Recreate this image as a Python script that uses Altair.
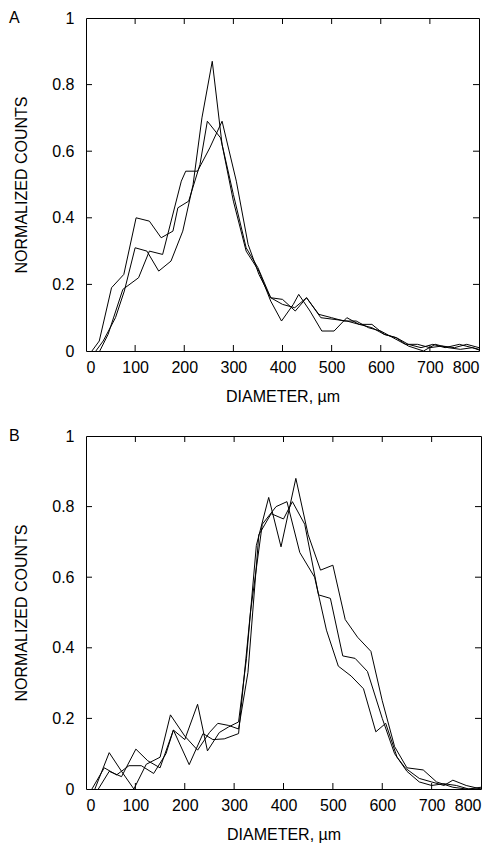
import altair as alt
import pandas as pd

# ---------------- data ----------------
# Panel A
a1_x = [12, 27, 52, 77, 102, 129, 153, 177, 187, 209, 232, 247, 274, 300, 326, 350, 376, 400, 426, 449, 478, 505, 531, 556, 582, 607, 632, 656, 682, 706, 731, 760, 786, 800]
a1_y = [0, 0.03, 0.19, 0.23, 0.40, 0.39, 0.34, 0.36, 0.43, 0.45, 0.56, 0.69, 0.64, 0.47, 0.31, 0.25, 0.16, 0.155, 0.12, 0.16, 0.10, 0.095, 0.09, 0.08, 0.08, 0.05, 0.04, 0.02, 0.01, 0.02, 0.01, 0.02, 0.01, 0.005]
a2_x = [20, 35, 60, 78, 100, 124, 148, 173, 197, 218, 236, 257, 277, 300, 326, 352, 376, 398, 422, 433, 456, 480, 505, 531, 556, 582, 607, 631, 656, 687, 711, 737, 762, 787, 800]
a2_y = [0, 0.03, 0.10, 0.18, 0.31, 0.30, 0.24, 0.27, 0.36, 0.50, 0.70, 0.87, 0.62, 0.45, 0.30, 0.24, 0.15, 0.09, 0.14, 0.17, 0.12, 0.06, 0.06, 0.10, 0.08, 0.07, 0.05, 0.04, 0.015, 0.0, 0.02, 0.01, 0.005, 0.01, 0.003]
a3_x = [28, 45, 75, 107, 129, 156, 194, 203, 227, 252, 277, 306, 330, 352, 376, 400, 425, 449, 474, 500, 525, 550, 575, 600, 625, 650, 675, 700, 725, 750, 775, 800]
a3_y = [0, 0.05, 0.185, 0.22, 0.30, 0.29, 0.51, 0.54, 0.54, 0.61, 0.69, 0.51, 0.32, 0.23, 0.16, 0.14, 0.13, 0.16, 0.11, 0.10, 0.09, 0.09, 0.07, 0.06, 0.04, 0.02, 0.02, 0.01, 0.015, 0.01, 0.02, 0.01]

# Panel B
b1_x = [12, 37, 62, 87, 112, 137, 162, 177, 200, 226, 246, 270, 289, 309, 325, 345, 370, 395, 425, 450, 475, 500, 525, 550, 577, 600, 625, 650, 683, 710, 743, 770, 800]
b1_y = [0, 0.06, 0.04, 0.066, 0.066, 0.044, 0.10, 0.167, 0.14, 0.24, 0.108, 0.16, 0.176, 0.19, 0.37, 0.69, 0.826, 0.686, 0.88, 0.72, 0.62, 0.634, 0.48, 0.43, 0.39, 0.25, 0.12, 0.06, 0.054, 0.02, 0.005, 0.0, 0.0]
b2_x = [18, 47, 72, 97, 122, 150, 171, 200, 226, 250, 267, 289, 309, 328, 350, 375, 400, 418, 443, 471, 495, 520, 545, 570, 600, 625, 650, 675, 700, 725, 750, 775, 800]
b2_y = [0, 0.103, 0.05, 0.0, 0.07, 0.09, 0.21, 0.15, 0.11, 0.16, 0.186, 0.18, 0.17, 0.33, 0.72, 0.78, 0.765, 0.814, 0.75, 0.55, 0.54, 0.377, 0.37, 0.333, 0.20, 0.10, 0.05, 0.02, 0.01, 0.015, 0.01, 0.0, 0.005]
b3_x = [25, 47, 72, 101, 125, 150, 177, 209, 237, 257, 280, 309, 333, 357, 385, 407, 433, 463, 487, 511, 537, 562, 587, 607, 630, 647, 675, 700, 725, 743, 770, 800]
b3_y = [0, 0.05, 0.035, 0.113, 0.08, 0.06, 0.167, 0.069, 0.157, 0.14, 0.142, 0.157, 0.50, 0.75, 0.80, 0.814, 0.67, 0.60, 0.45, 0.348, 0.32, 0.284, 0.162, 0.186, 0.09, 0.059, 0.03, 0.02, 0.01, 0.025, 0.01, 0.0]

x_ticks = [100, 200, 300, 400, 500, 600, 700]
y_ticks = [0.2, 0.4, 0.6, 0.8]
x_labels = [0, 100, 200, 300, 400, 500, 600, 700, 800]
y_labels = [0, 0.2, 0.4, 0.6, 0.8, 1]

FONT = "Liberation Sans"


def series_df(pairs):
    rows = []
    for name, xs, ys in pairs:
        for i, (x, y) in enumerate(zip(xs, ys)):
            rows.append({"series": name, "order": i, "x": x, "y": y})
    return pd.DataFrame(rows)


def panel(pairs, letter, width, height):
    df = series_df(pairs)
    xs = alt.Scale(domain=[0, 800], nice=False, zero=False)
    ys = alt.Scale(domain=[0, 1], nice=False, zero=False)
    xax = alt.Axis(values=x_labels, title="DIAMETER, µm", ticks=False, domain=False, grid=False,
                   labelPadding=8, titlePadding=13)
    yax = alt.Axis(values=y_labels, title="NORMALIZED COUNTS", ticks=False, domain=False, grid=False,
                   labelPadding=12, titlePadding=22, format="~g")

    lines = alt.Chart(df).mark_line(color="black", strokeWidth=1).encode(
        x=alt.X("x:Q", scale=xs, axis=xax),
        y=alt.Y("y:Q", scale=ys, axis=yax),
        detail="series:N",
        order="order:Q",
    )

    ylen = 6.0 / height
    xlen = 6.0 / width * 800
    tb = pd.DataFrame({"t": x_ticks, "a": [0] * len(x_ticks), "b": [ylen] * len(x_ticks)})
    tt = pd.DataFrame({"t": x_ticks, "a": [1] * len(x_ticks), "b": [1 - ylen] * len(x_ticks)})
    tl = pd.DataFrame({"t": y_ticks, "a": [0] * len(y_ticks), "b": [xlen] * len(y_ticks)})
    tr = pd.DataFrame({"t": y_ticks, "a": [800] * len(y_ticks), "b": [800 - xlen] * len(y_ticks)})

    def vt(d):
        return alt.Chart(d).mark_rule(color="black", strokeWidth=1).encode(
            x=alt.X("t:Q", scale=xs), y=alt.Y("a:Q", scale=ys), y2="b:Q")

    def ht(d):
        return alt.Chart(d).mark_rule(color="black", strokeWidth=1).encode(
            y=alt.Y("t:Q", scale=ys), x=alt.X("a:Q", scale=xs), x2="b:Q")

    lab = alt.Chart(pd.DataFrame({"l": [letter]})).mark_text(
        font=FONT, fontSize=16, align="left", baseline="middle", color="black"
    ).encode(text="l:N", x=alt.value(-77), y=alt.value(0))

    return alt.layer(lines, vt(tb), vt(tt), ht(tl), ht(tr), lab).properties(width=width, height=height)


pA = panel([("1", a1_x, a1_y), ("2", a2_x, a2_y), ("3", a3_x, a3_y)], "A", 393, 333)
pB = panel([("1", b1_x, b1_y), ("2", b2_x, b2_y), ("3", b3_x, b3_y)], "B", 395, 353)

chart = alt.vconcat(pA, pB, spacing=22).properties(
    padding={"left": 0, "top": 1, "right": 5, "bottom": 5},
    background="white",
).configure_view(stroke="black", strokeWidth=1).configure_axis(
    labelFont=FONT, titleFont=FONT, labelFontSize=16, titleFontSize=16,
    labelColor="black", titleColor="black", titleFontWeight="normal"
)

chart.save("out.html", embed_options={"renderer": "svg", "actions": False})
